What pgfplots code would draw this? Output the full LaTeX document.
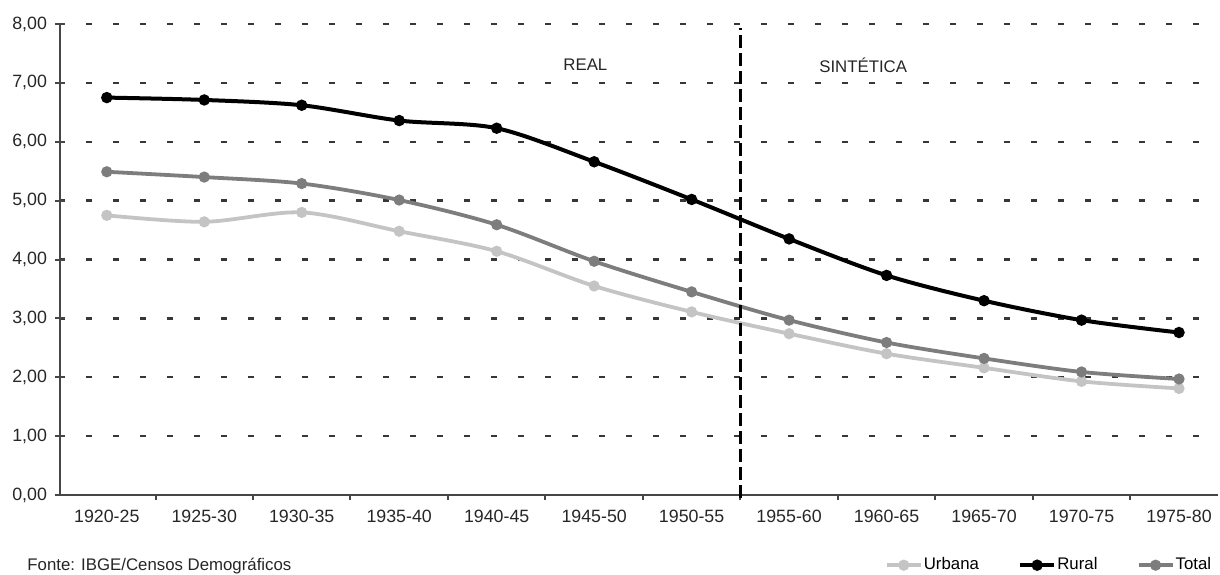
\documentclass[border=0pt]{standalone}
\usepackage{fontspec}
\setmainfont{Liberation Sans}
\usepackage{pgfplots}
\pgfplotsset{compat=1.18}
\definecolor{urb}{RGB}{196,196,196}
\definecolor{tot}{RGB}{125,125,125}
\definecolor{axg}{RGB}{70,70,70}
\definecolor{grd}{RGB}{55,55,55}
\newcommand{\ff}{\fontsize{8.4}{10}\selectfont}
\newcommand{\ft}{\fontsize{8.9}{10}\selectfont}
\begin{document}
\begin{tikzpicture}
\begin{axis}[
  at={(0,0)}, anchor=south west,
  scale only axis, width=579pt, height=235.5pt,
  xmin=-0.48, xmax=11.4, ymin=0, ymax=8,
  axis x line*=bottom, axis y line*=left,
  axis line style={draw=axg, line width=1pt},
  tick style={draw=axg, line width=1pt},
  tick align=center, major tick length=0pt,
  ytick={0,1,...,8},
  extra y ticks={0,1,...,8},
  extra y tick labels={},
  extra y tick style={major tick length=5pt, grid=none},
  xtick={0,1,...,11},
  xticklabels={1920-25,1925-30,1930-35,1935-40,1940-45,1945-50,1950-55,1955-60,1960-65,1965-70,1970-75,1975-80},
  minor xtick={0.5,1.5,...,10.5},
  minor tick length=2.6pt,
  minor tick style={yshift=-1.3pt},
  ymajorgrids,
  major grid style={draw=grd, line width=1.2pt, dash pattern=on 3pt off 10.5pt, dash phase=0.5pt},
  every tick label/.append style={font=\ft, text=black!85},
  xticklabel style={yshift=-4pt},
  yticklabel style={xshift=-3pt},
  /pgf/number format/.cd, fixed, fixed zerofill, precision=2, use comma, assume math mode=true,
  /pgfplots/.cd,
  legend columns=3,
  legend style={draw=none, fill=none, font=\ff, at={(0.9955,-0.149)}, anchor=east,
    inner sep=0pt, nodes={inner xsep=0.6pt},
    /tikz/every even column/.append style={column sep=19pt}},
  legend image code/.code={\draw[mark repeat=2,mark phase=2,#1] plot coordinates {(0pt,0pt) (8.5pt,0pt) (17pt,0pt)};},
  clip=false,
]
\addplot[urb, line width=1.9pt, smooth, mark=*, mark size=1.8pt] coordinates {
(0,4.75) (1,4.64) (2,4.80) (3,4.48) (4,4.14) (5,3.55) (6,3.11) (7,2.74) (8,2.40) (9,2.16) (10,1.93) (11,1.81)};
\addlegendentry{Urbana}
\addplot[black, line width=2pt, smooth, mark=*, mark size=1.8pt] coordinates {
(0,6.75) (1,6.71) (2,6.62) (3,6.36) (4,6.23) (5,5.66) (6,5.02) (7,4.35) (8,3.73) (9,3.30) (10,2.97) (11,2.76)};
\addlegendentry{Rural}
\addplot[tot, line width=1.9pt, smooth, mark=*, mark size=1.8pt] coordinates {
(0,5.49) (1,5.40) (2,5.29) (3,5.01) (4,4.59) (5,3.97) (6,3.45) (7,2.97) (8,2.59) (9,2.32) (10,2.09) (11,1.97)};
\addlegendentry{Total}
\addplot[black, line width=1.6pt, dash pattern=on 6.5pt off 2.5pt, forget plot] coordinates {(6.5,-0.05) (6.5,7.93)};
\node[font=\ff, text=black!85] at (axis cs:4.91,7.30) {REAL};
\node[font=\ff, text=black!85] at (axis cs:7.76,7.30) {SINTÉTICA};
\end{axis}
\node[anchor=west, inner sep=0pt, font=\ff, text=black!85] at (-16.5pt,-35.5pt) {Fonte: IBGE/Censos Demográficos};
\pgfresetboundingbox
\path (-30pt,-39.5pt) rectangle (580pt,247.5pt);
\end{tikzpicture}
\end{document}
